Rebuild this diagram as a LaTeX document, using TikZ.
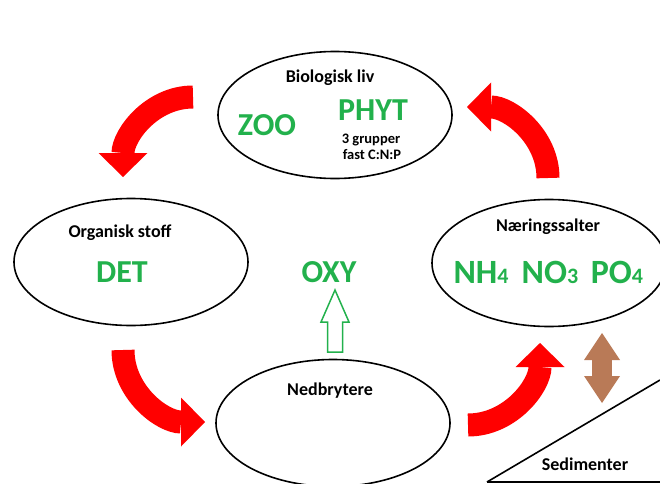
\documentclass[tikz,border=0pt]{standalone}
\usepackage{fontspec}
\setmainfont{Carlito}
\usepackage{xcolor}
\usepackage{tikz}
\usetikzlibrary{shapes,arrows.meta,positioning,calc}
\definecolor{flowred}{HTML}{FF0000}
\definecolor{poolgreen}{HTML}{22B14C}
\definecolor{sedbrown}{HTML}{B97A57}
\newcommand{\chemsub}[1]{{\fontsize{22}{24}\selectfont #1}}

\begin{document}
\begin{tikzpicture}[x=1pt, y=1pt,
    pool/.style={ellipse, draw=black, line width=1.6pt, minimum width=234pt, minimum height=127pt},
    title/.style={font=\fontsize{18}{21}\selectfont\bfseries, text=black},
    big/.style={font=\fontsize{32}{36}\selectfont\bfseries, text=poolgreen},
    nut/.style={font=\fontsize{34}{38}\selectfont\bfseries, text=poolgreen},
    note/.style={font=\fontsize{14.5}{16}\selectfont\bfseries, text=black},
    flow/.style={line width=23pt, draw=flowred, -{Triangle[length=24pt 0, width=49pt 0, line width=0pt]}}
]
    \useasboundingbox (0,0) rectangle (660,483);
    \clip (0,0) rectangle (660,483);

    % Biologisk liv
    \node[pool] (bio) at (335,368) {};
    \node[title] (biot) at (330,405) {Biologisk liv};
    \node[big] (zoo) at (267,358) {ZOO};
    \node[big] (phyt) at (373,373) {PHYT};
    \node[note] (grp) at (371,343) {3 grupper};
    \node[note] (cnp) at (372,328) {fast C:N:P};

    % Organisk stoff
    \node[pool] (org) at (131,221) {};
    \node[title] (orgt) at (120,250) {Organisk stoff};
    \node[big] (det) at (122,211) {DET};

    % Naeringssalter
    \node[pool] (naer) at (549,220) {};
    \node[title] (naert) at (548,256) {Næringssalter};
    \node[nut, anchor=base] (nh) at (481,200) {NH\chemsub{4}};
    \node[nut, anchor=base] (no) at (550,200) {NO\chemsub{3}};
    \node[nut, anchor=base] (po) at (617,200) {PO\chemsub{4}};

    % Nedbrytere
    \node[pool] (ned) at (333,60) {};
    \node[title] (nedt) at (330,92) {Nedbrytere};
    \node[big] (oxy) at (329,211) {OXY};

    % Sedimenter
    \node[title] (sed) at (585,19) {Sedimenter};
    \coordinate (sedl) at (487,1);
    \coordinate (sedr) at (660,103);
    \coordinate (sedb) at (660,1);
    \draw[line width=1.6pt] (sedl) -- (sedr);
    \draw[line width=1.6pt] (sedl) -- (sedb);

    % Flows
    \coordinate (f1a) at (193,386);
    \coordinate (f1b) at (123,306);
    \coordinate (f2a) at (123,133);
    \coordinate (f2b) at (205,61);
    \coordinate (f3a) at (468,58);
    \coordinate (f3b) at (540,140);
    \coordinate (f4a) at (548,305);
    \coordinate (f4b) at (467,376);
    \draw[flow] (f1a) to[out=180, in=90] (f1b);
    \draw[flow] (f2a) to[out=-90, in=180] (f2b);
    \draw[flow] (f3a) to[out=0, in=-90] (f3b);
    \draw[flow] (f4a) to[out=90, in=0] (f4b);

    % Exchange with sediment
    \coordinate (exlo) at (602,80);
    \coordinate (exhi) at (602,150);
    \draw[line width=20pt, draw=sedbrown, {Triangle[length=27pt 0, width=36pt 0, line width=0pt]}-{Triangle[length=27pt 0, width=36pt 0, line width=0pt]}] (exlo) -- (exhi);

    % Oxygen
    \coordinate (oxyfoot) at (335,131);
    \draw[poolgreen, line width=1.5pt] (oxyfoot) ++(-7.5,0) -- ++(0,30) -- ++(-6.5,0) -- ++(14,32) -- ++(14,-32) -- ++(-6.5,0) -- ++(0,-30) -- cycle;
\end{tikzpicture}
\end{document}
